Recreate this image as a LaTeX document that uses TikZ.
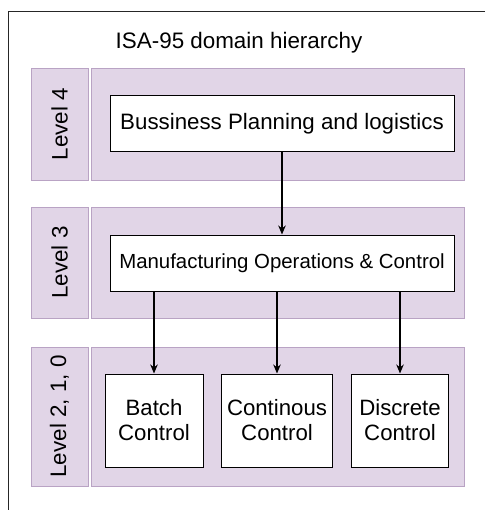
\documentclass[tikz,border=0pt]{standalone}
\usepackage{fontspec}
\setmainfont{Liberation Sans}
\usetikzlibrary{arrows.meta}
\definecolor{lvfill}{HTML}{E1D5E7}
\definecolor{lvdraw}{HTML}{B9A3C4}
\begin{document}
\begin{tikzpicture}[x=1pt,y=-1pt,
  frame/.style={draw=black!85,line width=0.8pt},
  band/.style={draw=lvdraw,fill=lvfill,line width=0.8pt,inner sep=0pt},
  lvlabel/.style={band},
  lvtext/.style={rotate=90,font=\fontsize{22.4}{26}\selectfont},
  wbox/.style={draw=black,fill=white,line width=1pt,inner sep=0pt,align=center},
  conn/.style={draw=black,line width=1.3pt,-{Stealth[length=9pt,width=7.5pt]}}
]
\useasboundingbox (0,0) rectangle (485,510);
\draw[frame] (485,11) -- (8,11) -- (8,510);
\node[font=\fontsize{22.4}{26}\selectfont] (title) at (239,43) {ISA-95 domain hierarchy};
% Level 4
\node[lvlabel,minimum width=57,minimum height=112] (l4) at (59.5,124) {};
\node[lvtext] (l4t) at (l4.center) {Level 4};
\node[band,minimum width=373,minimum height=112] (b4) at (277.5,124) {};
\node[wbox,minimum width=344,minimum height=56,font=\fontsize{22.3}{26}\selectfont] (bp) at (282,124) {Bussiness Planning and logistics};
% Level 3
\node[lvlabel,minimum width=57,minimum height=111] (l3) at (59.5,262.5) {};
\node[lvtext] (l3t) at (l3.center) {Level 3};
\node[band,minimum width=373,minimum height=111] (b3) at (277.5,262.5) {};
\node[wbox,minimum width=344,minimum height=56,font=\fontsize{20.4}{24}\selectfont] (mo) at (282,263) {Manufacturing Operations \& Control};
% Level 2,1,0
\node[lvlabel,minimum width=57,minimum height=139] (l2) at (59.5,416.5) {};
\node[lvtext] (l2t) at (l2.center) {Level 2, 1, 0};
\node[band,minimum width=373,minimum height=139] (b2) at (277.5,416.5) {};
\node[wbox,minimum width=98,minimum height=93,font=\fontsize{22.2}{25}\selectfont] (batch) at (154,420.5) {Batch\\Control};
\node[wbox,minimum width=111,minimum height=93,font=\fontsize{22.2}{25}\selectfont] (cont) at (277,420.5) {Continous\\Control};
\node[wbox,minimum width=97,minimum height=93,font=\fontsize{22.2}{25}\selectfont] (disc) at (400,420.5) {Discrete\\Control};
% connectors
\draw[conn] (bp.south) -- (mo.north);
\draw[conn] (mo.south -| batch.north) -- (batch.north);
\draw[conn] (mo.south -| cont.north) -- (cont.north);
\draw[conn] (mo.south -| disc.north) -- (disc.north);
\end{tikzpicture}
\end{document}
